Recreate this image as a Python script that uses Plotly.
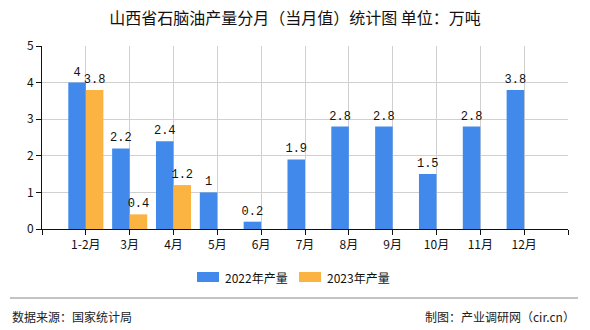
import plotly.graph_objects as go

# Monthly naphtha output in Shanxi (10k tonnes)
months = ["1-2月", "3月", "4月", "5月", "6月", "7月", "8月", "9月", "10月", "11月", "12月"]
output_2022 = [4, 2.2, 2.4, 1, 0.2, 1.9, 2.8, 2.8, 1.5, 2.8, 3.8]
output_2023 = [3.8, 0.4, 1.2, None, None, None, None, None, None, None, None]
series_names = ["2022年产量", "2023年产量"]
series_colors = ["#418aec", "#fbb441"]
y_ticks = [0, 1, 2, 3, 4, 5]

W, H = 590, 330
L, R, T, B = 42, 22, 46, 101
pw, ph = W - L - R, H - T - B

FONT = "Noto Sans CJK SC, Noto Sans, DejaVu Sans"
MONO = "Liberation Mono, DejaVu Sans Mono, monospace"


def px_x(px):
    return (px - L) / pw


def px_y(py):
    return (H - B - py) / ph


def fmt(v):
    return "" if v is None else f"{v:g}"


xs = list(range(len(months)))

fig = go.Figure()
for name, vals, color in zip(series_names, [output_2022, output_2023], series_colors):
    fig.add_trace(go.Bar(
        x=xs, y=vals, name=name, marker=dict(color=color, line=dict(width=0)),
        text=[fmt(v) for v in vals], textposition="outside", constraintext="none",
        textfont=dict(family=MONO, size=12, color="#111"),
        cliponaxis=False, showlegend=False,
    ))

fig.update_layout(
    width=W, height=H,
    margin=dict(l=L, r=R, t=T, b=B),
    paper_bgcolor="white", plot_bgcolor="white",
    barmode="group", bargap=0.2, bargroupgap=0,
    font=dict(family=FONT, size=12, color="#111"),
    title=dict(text="山西省石脑油产量分月（当月值）统计图 单位：万吨",
               x=0.5, xanchor="center", y=1 - 18 / H, yanchor="middle",
               font=dict(family=FONT, size=16, color="#111")),
)

fig.update_xaxes(
    range=[-1, len(months)],
    tickvals=[-1] + xs + [len(months)],
    ticktext=[""] + months + [""],
    ticks="outside", ticklen=5, tickcolor="#111",
    showgrid=True, gridcolor="#d0d0d0", gridwidth=1,
    showline=True, linecolor="#111", linewidth=1,
    zeroline=False, tickfont=dict(family=FONT, size=12, color="#111"),
)
fig.update_yaxes(
    range=[0, 5], tickvals=y_ticks,
    ticks="outside", ticklen=5, tickcolor="#111",
    showgrid=True, gridcolor="#d0d0d0", gridwidth=1,
    showline=True, linecolor="#111", linewidth=1,
    zeroline=False, tickfont=dict(family=FONT, size=12, color="#111"),
)

shapes = []
annotations = []

# Legend: wide swatches with labels below the plot
legend_items = [(197, series_names[0], series_colors[0]), (299, series_names[1], series_colors[1])]
for x0, name, color in legend_items:
    shapes.append(dict(type="rect", xref="paper", yref="paper",
                       x0=px_x(x0), x1=px_x(x0 + 22), y0=px_y(282), y1=px_y(272),
                       fillcolor=color, line=dict(width=0)))
    annotations.append(dict(text=name, xref="paper", yref="paper",
                            x=px_x(x0 + 26), y=px_y(277), xanchor="left", yanchor="middle",
                            showarrow=False, font=dict(family=FONT, size=12, color="#111")))

# Footer rule and source notes
shapes.append(dict(type="line", xref="paper", yref="paper",
                   x0=px_x(10), x1=px_x(578), y0=px_y(298), y1=px_y(298),
                   line=dict(color="#888", width=1)))
annotations.append(dict(text="数据来源：国家统计局", xref="paper", yref="paper",
                        x=px_x(10), y=px_y(316), xanchor="left", yanchor="middle",
                        showarrow=False, font=dict(family=FONT, size=12, color="#222")))
annotations.append(dict(text="制图：产业调研网（cir.cn）", xref="paper", yref="paper",
                        x=px_x(577), y=px_y(316), xanchor="right", yanchor="middle",
                        showarrow=False, font=dict(family=FONT, size=12, color="#222")))

fig.update_layout(shapes=shapes, annotations=annotations)

fig.write_html("out.html")
